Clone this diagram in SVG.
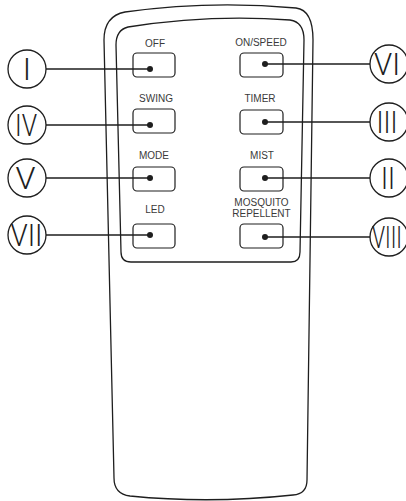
<svg xmlns="http://www.w3.org/2000/svg" width="406" height="501" viewBox="0 0 406 501">
<style>
.body{fill:none;stroke:#1e1e1e;stroke-width:1.3}
.btn{fill:#fff;stroke:#1e1e1e;stroke-width:1.2}
.lbl{font-family:"Liberation Sans",Arial,sans-serif;font-size:10px;fill:#3a3a3a;text-anchor:middle}
.num{font-family:Roboto,"Liberation Sans",Arial,sans-serif;font-weight:300;font-size:31px;fill:#1e1e1e;text-anchor:middle}
.cir{fill:#fff;stroke:#1e1e1e;stroke-width:1.3}
.con{stroke:#1e1e1e;stroke-width:1.3;fill:none}
.dot{fill:#1e1e1e}
</style>
<rect width="406" height="501" fill="#fff"/>
<g id="remote">
<path class="body" d="M104,40 L114,478 Q114,494 130,496 Q210,504 293,495 Q307,494 307,480 L313,40 Q313,10 296,8 Q210,0 125,12 Q104,16 104,40 Z"/>
<path class="body" stroke-width="1.2" d="M116,45 L121,252 Q121,262 131,262 L291,262 Q300,262 300,252 L304,40 Q304,22 290,20 Q210,14 128,27 Q116,30 116,45 Z"/>
</g>
<g id="btn-off"><rect class="btn" x="133" y="53" width="42" height="24" rx="4"/><text class="lbl" x="155" y="47">OFF</text></g>
<g id="btn-swing"><rect class="btn" x="133" y="109" width="42" height="24" rx="4"/><text class="lbl" x="156" y="102">SWING</text></g>
<g id="btn-mode"><rect class="btn" x="133" y="167" width="42" height="24" rx="4"/><text class="lbl" x="154" y="159">MODE</text></g>
<g id="btn-led"><rect class="btn" x="133" y="224" width="42" height="24" rx="4"/><text class="lbl" x="155" y="213">LED</text></g>
<g id="btn-onspeed"><rect class="btn" x="240" y="53" width="43" height="24" rx="4"/><text class="lbl" x="261" y="46">ON/SPEED</text></g>
<g id="btn-timer"><rect class="btn" x="240" y="110" width="43" height="24" rx="4"/><text class="lbl" x="260" y="102">TIMER</text></g>
<g id="btn-mist"><rect class="btn" x="240" y="167" width="43" height="24" rx="4"/><text class="lbl" x="262" y="159">MIST</text></g>
<g id="btn-mosquito"><rect class="btn" x="240" y="224" width="43" height="24" rx="4"/><text class="lbl" x="261.5" y="206">MOSQUITO</text><text class="lbl" x="261.5" y="217">REPELLENT</text></g>
<g id="connectors">
<line class="con" x1="46" y1="69" x2="150" y2="69"/>
<line class="con" x1="46" y1="125" x2="150" y2="125"/>
<line class="con" x1="46" y1="178" x2="150" y2="178"/>
<line class="con" x1="46" y1="235" x2="150" y2="235"/>
<line class="con" x1="265" y1="64" x2="370" y2="64"/>
<line class="con" x1="265" y1="122" x2="370" y2="122"/>
<line class="con" x1="265" y1="178" x2="370" y2="178"/>
<line class="con" x1="265" y1="237" x2="370" y2="237"/>
<circle class="dot" cx="150" cy="69" r="3"/>
<circle class="dot" cx="150" cy="125" r="3"/>
<circle class="dot" cx="150" cy="178" r="3"/>
<circle class="dot" cx="150" cy="235" r="3"/>
<circle class="dot" cx="265" cy="64" r="3"/>
<circle class="dot" cx="265" cy="122" r="3"/>
<circle class="dot" cx="265" cy="178" r="3"/>
<circle class="dot" cx="265" cy="237" r="3"/>
</g>
<g id="callout-I"><circle class="cir" cx="27" cy="69" r="19"/><text class="num" x="27" y="80">I</text></g>
<g id="callout-IV"><circle class="cir" cx="27" cy="125" r="19"/><text class="num" x="26" y="136" textLength="22" lengthAdjust="spacingAndGlyphs">IV</text></g>
<g id="callout-V"><circle class="cir" cx="27" cy="178" r="19"/><text class="num" x="25.5" y="189" textLength="20" lengthAdjust="spacingAndGlyphs">V</text></g>
<g id="callout-VII"><circle class="cir" cx="27" cy="235" r="19"/><text class="num" x="26.5" y="246" textLength="32" lengthAdjust="spacingAndGlyphs">VII</text></g>
<g id="callout-VI"><circle class="cir" cx="389" cy="64" r="19"/><text class="num" x="387" y="75" textLength="26" lengthAdjust="spacingAndGlyphs">VI</text></g>
<g id="callout-III"><circle class="cir" cx="389" cy="122" r="19"/><text class="num" x="387" y="133" textLength="21" lengthAdjust="spacingAndGlyphs">III</text></g>
<g id="callout-II"><circle class="cir" cx="389" cy="178" r="19"/><text class="num" x="388" y="189" textLength="14" lengthAdjust="spacingAndGlyphs">II</text></g>
<g id="callout-VIII"><circle class="cir" cx="389" cy="237" r="19"/><text class="num" x="387" y="248" textLength="30" lengthAdjust="spacingAndGlyphs">VIII</text></g>
</svg>
